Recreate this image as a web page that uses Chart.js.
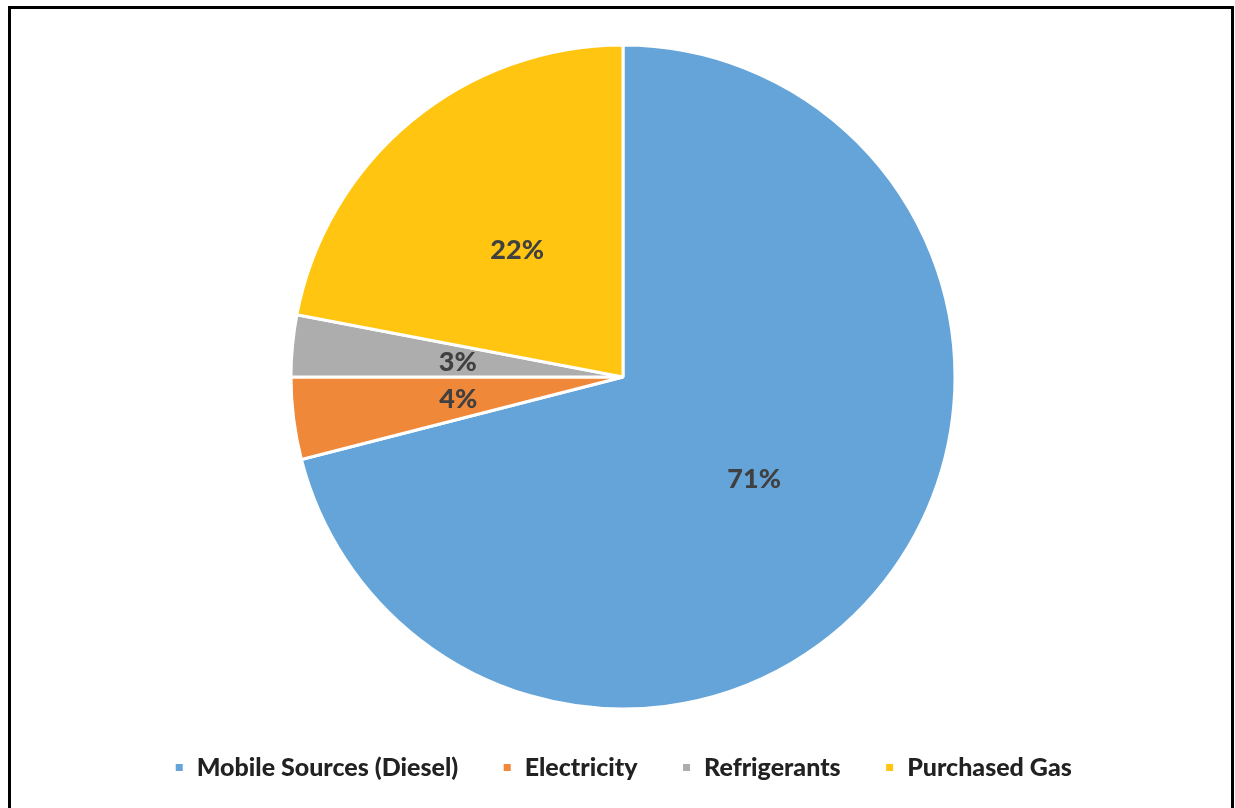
<!DOCTYPE html>
<html>
<head>
<meta charset="utf-8">
<script src="https://cdn.jsdelivr.net/npm/chart.js@4/dist/chart.umd.min.js"></script>
<style>
  html, body { margin: 0; padding: 0; background: #fff; overflow: hidden; }
  #wrap { position: relative; width: 1235px; height: 808px; }
  #frame {
    position: absolute; left: 8px; top: 6px; width: 1226px; height: 820px;
    border: 3px solid #000; box-sizing: border-box;
  }
  canvas { position: absolute; left: 0; top: 0; }
</style>
</head>
<body>
<div id="wrap">
  <canvas id="grafico-pizza" width="1235" height="808"></canvas>
  <div id="frame"></div>
</div>
<script>
// ---------------------
// Dados
// ---------------------
const categorias = ['Mobile Sources (Diesel)', 'Electricity', 'Refrigerants', 'Purchased Gas'];
const valores = [71, 4, 3, 22];
const cores = ['#65A4D8', '#F0883A', '#ADADAD', '#FFC510'];

// ---------------------
// Rótulos dentro das fatias
// ---------------------
const rotulosPlugin = {
    id: 'rotulos',
    afterDatasetsDraw(chart) {
        const ctx = chart.ctx;
        const meta = chart.getDatasetMeta(0);
        const total = valores.reduce((a, b) => a + b, 0);
        ctx.save();
        ctx.font = '900 27px Lato';
        ctx.fillStyle = '#404040';
        ctx.textAlign = 'center';
        ctx.textBaseline = 'middle';
        meta.data.forEach((arc, i) => {
            const p = arc.getCenterPoint();
            const pct = Math.round(valores[i] / total * 100) + '%';
            ctx.fillText(pct, p.x, p.y + 1);
        });
        ctx.restore();
    }
};

const ctx = document.getElementById('grafico-pizza').getContext('2d');

new Chart(ctx, {
    type: 'pie',
    data: {
        labels: categorias,
        datasets: [{
            data: valores,
            backgroundColor: cores,
            borderColor: '#ffffff',
            borderWidth: 3
        }]
    },
    options: {
        responsive: false,
        animation: false,
        radius: 332,
        layout: {
            padding: { left: 11, right: 0, top: 43, bottom: 18 }
        },
        plugins: {
            tooltip: { enabled: false },
            legend: {
                position: 'bottom',
                labels: {
                    boxWidth: 10,
                    boxHeight: 10,
                    padding: 44,
                    color: '#222222',
                    font: { family: 'Lato', size: 25, weight: '900' }
                }
            }
        }
    },
    plugins: [rotulosPlugin]
});
</script>
</body>
</html>
